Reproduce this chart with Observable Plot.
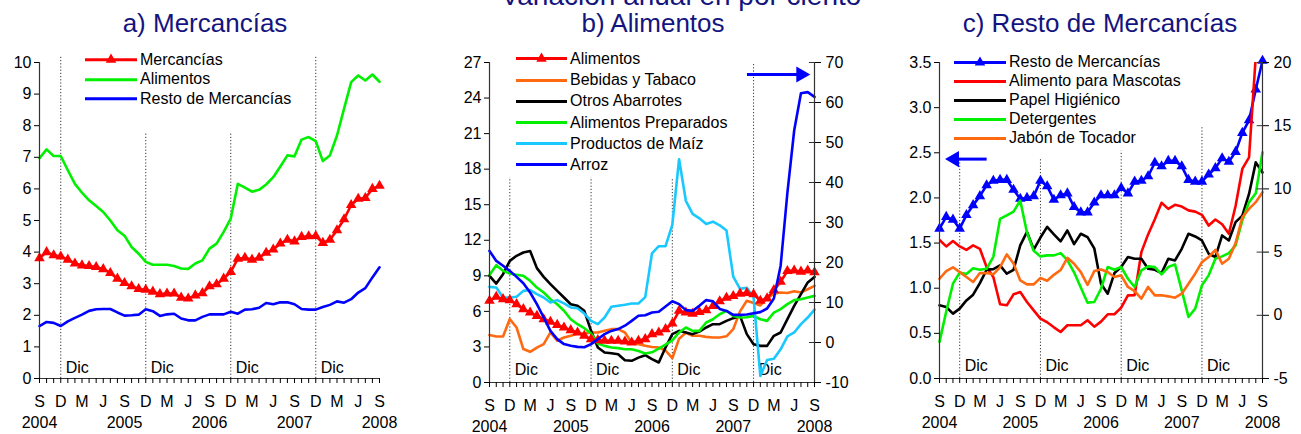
<!DOCTYPE html>
<html><head><meta charset="utf-8">
<script src="https://cdn.jsdelivr.net/npm/d3@7"></script>
<script src="https://cdn.jsdelivr.net/npm/@observablehq/plot@0.6"></script>
<style>
html,body{margin:0;padding:0;background:#fff;overflow:hidden;}
body{font-family:"Liberation Sans",Arial,sans-serif;}
#wrap{position:relative;width:1301px;height:434px;overflow:hidden;}
.title{position:absolute;color:#14147e;font-size:26px;white-space:nowrap;transform:translateX(-50%);line-height:26px;}
.panel{position:absolute;top:40px;}
.legend{position:absolute;font-size:16px;color:#000;}
.legend .row{display:flex;align-items:center;white-space:nowrap;}
.legend svg{display:block;}
</style></head>
<body><div id="wrap"></div>
<script>
// ---------- categories / labels ----------
const monthLetters = ["S","D","M","J"];
const yearLabels = ["2004","2005","2006","2007","2008"];
const decIdx = [3, 15, 27, 39];

// ---------- a) Mercancías (monthly, Sep 2004 - Sep 2008) ----------
const mercancias = [3.81,4.0,3.9,3.86, 3.76,3.64,3.58,3.56,3.53,3.46,3.34,3.16,3.02,2.92,2.83,2.81,
  2.75,2.67,2.69,2.69,2.56,2.53,2.63,2.7,2.92,2.98,3.16,3.37,
  3.79,3.82,3.76,3.82,3.98,4.08,4.27,4.39,4.34,4.48,4.5,4.51,
  4.29,4.39,4.69,5.04,5.49,5.69,5.71,6.0,6.1];
const alimentosA = [6.97,7.25,7.04,7.04, 6.59,6.16,5.88,5.64,5.46,5.27,5.0,4.69,4.52,4.16,3.95,3.69,
  3.6,3.6,3.6,3.56,3.48,3.47,3.64,3.74,4.11,4.27,4.64,5.06,
  6.16,6.04,5.91,5.97,6.14,6.37,6.71,7.06,7.03,7.56,7.64,7.51,
  6.88,7.06,7.69,8.54,9.38,9.59,9.43,9.62,9.39];
const restoMerc = [1.66,1.79,1.76,1.66, 1.81,1.92,2.02,2.14,2.19,2.2,2.2,2.09,1.99,2.0,2.02,2.19,
  2.13,1.98,2.03,2.05,1.9,1.84,1.84,1.95,2.03,2.03,2.03,2.11,
  2.05,2.18,2.19,2.24,2.39,2.35,2.41,2.41,2.35,2.2,2.18,2.18,
  2.26,2.33,2.44,2.4,2.51,2.72,2.86,3.2,3.52];

// ---------- b) Alimentos ----------
const alimentosB = [6.89,7.23,7.03,6.95, 6.61,6.19,5.9,5.62,5.34,5.12,4.86,4.64,4.42,4.22,3.94,3.66,
  3.57,3.52,3.52,3.52,3.46,3.37,3.52,3.66,4.08,4.22,4.5,4.98,
  6.05,5.9,5.8,5.95,6.1,6.45,6.85,7.15,7.3,7.5,7.55,7.45,
  6.9,7.1,7.8,8.5,9.4,9.45,9.35,9.45,9.3];
const bebidas = [4.0,3.88,3.88,5.35, 4.64,2.82,2.59,2.95,3.24,4.22,3.52,3.8,3.94,4.13,4.13,4.22,
  4.22,4.36,4.5,4.5,4.22,3.37,3.23,3.1,3.0,2.95,2.7,2.05,
  3.7,4.2,3.94,3.94,3.85,3.8,3.8,3.9,4.5,6.0,6.9,6.7,
  6.5,7.1,7.5,7.6,7.55,7.7,7.6,7.87,8.15];
const otrosAbarrotes = [9.0,8.35,9.14,10.26, 10.69,10.97,11.1,9.65,8.91,8.3,7.73,7.17,6.6,6.47,6.05,4.36,
  2.95,2.53,2.47,2.39,1.88,1.83,2.1,2.3,1.97,1.69,2.95,4.08,
  4.36,4.22,4.08,4.3,4.64,4.92,4.92,5.2,5.43,5.62,4.08,3.23,
  3.09,3.09,3.94,4.22,5.34,6.47,7.45,8.44,8.91];
const alimPreparados = [9.08,9.9,9.42,9.2, 9.08,9.0,8.58,8.01,7.59,7.03,6.6,6.05,5.34,4.92,4.58,4.13,
  3.29,3.09,2.95,2.9,2.81,2.8,2.65,2.45,2.55,2.85,3.2,3.55,
  4.22,4.64,4.36,4.36,5.06,5.34,5.76,6.05,5.62,5.48,5.5,5.62,
  5.34,5.2,5.9,6.19,6.61,6.95,7.03,7.17,7.31];
const prodMaiz = [8.07,8.01,7.17,7.17, 7.23,7.73,7.8,7.45,7.17,6.75,6.95,6.67,6.33,6.27,5.82,5.2,
  4.92,5.48,6.39,6.47,6.56,6.67,6.67,7.2,10.9,11.5,11.5,13.3,
  18.84,15.33,14.23,13.85,13.38,13.57,13.26,12.82,8.93,7.9,8.0,7.2,
  0.55,1.9,2.0,2.8,3.9,4.22,4.92,5.48,6.15];
const arroz = [22.9,20.4,19.2,17.9, 16.4,14.8,12.5,9.6,6.25,2.9,0.85,-0.4,-0.8,-1.1,-1.2,-0.4,
  0.85,2.1,2.9,3.35,4.2,5.4,6.7,6.8,7.5,7.7,9.0,10.3,
  9.6,8.1,7.9,9.2,10.6,10.3,8.4,7.9,6.9,6.9,7.0,7.3,
  7.6,8.5,11.0,19.2,37.5,53.0,62.3,62.6,61.4];

// ---------- c) Resto de Mercancías ----------
const mascotas = [5.97,5.45,5.87,5.45, 5.18,5.53,5.26,3.82,3.03,0.87,0.79,1.66,1.84,1.05,0.39,-0.26,
  -0.55,-0.95,-1.32,-0.79,-0.79,-0.79,-0.39,-0.9,-0.5,0.08,0.08,0.61,
  1.58,1.6,5.0,6.4,7.6,8.9,8.42,8.74,8.6,8.3,8.2,7.95,
  7.1,7.58,7.2,6.45,8.65,11.58,12.5,20.5,27];
const papel = [0.79,0.66,0.13,0.53, 1.18,1.63,2.55,3.6,3.65,3.95,3.29,3.6,5.53,6.6,5.2,6.15,
  7.0,6.4,5.85,6.71,5.63,6.45,6.18,5.3,2.5,1.71,3.34,3.82,
  4.61,4.47,4.47,3.68,3.6,3.34,4.47,4.34,5.26,6.45,6.24,5.92,
  4.87,4.61,6.32,5.92,7.37,7.89,9.6,12.1,11.3];
const detergentes = [-2.1,0.3,2.5,3.38, 3.26,3.72,3.6,3.68,4.63,7.63,7.9,8.2,9.08,6.55,5.1,4.66,
  4.74,4.74,4.92,4.37,3.4,2.2,1.0,1.05,2.1,3.82,3.6,3.82,
  2.89,2.24,3.55,3.87,3.82,3.24,3.82,4.03,1.97,-0.13,0.53,2.37,
  3.16,4.47,4.66,4.92,5.53,7.5,8.95,9.66,12.9];
const jabon = [2.89,3.5,3.8,3.42, 3.03,2.63,3.34,3.34,3.24,3.82,4.82,4.1,2.76,2.45,2.45,2.95,
  2.74,3.2,3.58,4.55,4.08,3.42,2.4,3.5,3.62,3.42,3.03,3.16,
  2.24,1.92,1.32,2.24,1.58,1.58,1.5,1.39,1.71,2.5,3.29,4.21,
  4.61,5.18,4.08,4.47,5.71,7.76,8.42,8.95,9.74];

// ---------- colours ----------
const C = {red:"#ff0000", green:"#00f000", blue:"#0000ff", orange:"#ff6a10", black:"#000000", cyan:"#18c8ff"};

const wrap = document.getElementById("wrap");
const FONT = "Liberation Sans, Arial, sans-serif";

function addTitle(text, cx, top, size) {
  const d = document.createElement("div");
  d.className = "title"; d.textContent = text;
  d.style.left = cx + "px"; d.style.top = top + "px";
  if (size) { d.style.fontSize = size + "px"; d.style.lineHeight = size + "px"; }
  wrap.appendChild(d);
}

function addLegend(left, top, rowH, lineW, gap, items) {
  const ns = "http://www.w3.org/2000/svg";
  const div = document.createElement("div");
  div.className = "legend"; div.style.left = left + "px"; div.style.top = top + "px";
  for (const it of items) {
    const row = document.createElement("div"); row.className = "row"; row.style.height = rowH + "px";
    const svg = document.createElementNS(ns, "svg");
    svg.setAttribute("width", lineW); svg.setAttribute("height", rowH);
    svg.style.marginRight = gap + "px";
    const ln = document.createElementNS(ns, "line");
    ln.setAttribute("x1", 0); ln.setAttribute("x2", lineW);
    ln.setAttribute("y1", rowH / 2); ln.setAttribute("y2", rowH / 2);
    ln.setAttribute("stroke", it.color); ln.setAttribute("stroke-width", 3);
    svg.appendChild(ln);
    if (it.tri) {
      const p = document.createElementNS(ns, "path");
      p.setAttribute("d", d3.symbol(d3.symbolTriangle, 48)());
      p.setAttribute("transform", `translate(${lineW / 2},${rowH / 2})`);
      p.setAttribute("fill", it.color);
      svg.appendChild(p);
    }
    const sp = document.createElement("span"); sp.textContent = it.label;
    row.appendChild(svg); row.appendChild(sp); div.appendChild(row);
  }
  wrap.appendChild(div);
}

function makePanel(o) {
  const idx = (d, i) => i;
  const y0 = o.yDomain[0];
  const marks = [];
  const decs = decIdx.map((x, k) => ({x, top: o.decTop[k]}));
  marks.push(Plot.ruleX(decs, {x: "x", y1: () => y0, y2: "top", stroke: "#333", strokeWidth: 1, strokeDasharray: "1.2,2"}));
  marks.push(Plot.text(decs, {x: "x", y: () => y0, text: () => "Dic", textAnchor: "start", dx: 5, dy: o.dicDy, fontSize: 16}));
  for (const s of o.series) {
    const yv = s.map ? (d => s.map(d)) : (d => d);
    marks.push(Plot.lineY(s.values, {x: idx, y: yv, stroke: s.color, strokeWidth: 2.6, clip: !!s.clip}));
    if (s.tri) marks.push(Plot.dot(s.values, {x: idx, y: yv, symbol: "triangle", r: 3.9, fill: s.color, stroke: "none", clip: !!s.clip}));
  }
  if (o.arrow) {
    const a = o.arrow;
    marks.push(Plot.ruleY([a.y], {x1: () => a.x1, x2: () => a.x2, stroke: C.blue, strokeWidth: 3}));
    marks.push(Plot.dot([a.y], {x: () => a.head, y: d => d, symbol: "triangle", rotate: a.rot, r: 6, fill: C.blue, stroke: "none"}));
  }
  marks.push(Plot.ruleX([0], {stroke: "#333", strokeWidth: 1.2}));
  marks.push(Plot.ruleY([y0], {stroke: "#333", strokeWidth: 1.2}));
  marks.push(Plot.axisX({ticks: d3.range(0, 49), tickSize: 5, tickFormat: () => "", label: null}));
  marks.push(Plot.axisX({ticks: d3.range(0, 49, 3), tickSize: 0, tickPadding: 17, tickFormat: i => monthLetters[(i / 3) % 4], label: null, fontSize: 16}));
  marks.push(Plot.axisX({ticks: d3.range(0, 49, 12), tickSize: 0, tickPadding: 38, tickFormat: i => yearLabels[i / 12], label: null, fontSize: 16}));
  marks.push(Plot.axisY({ticks: o.leftTicks, tickSize: 5, tickPadding: 3, tickFormat: o.leftFmt, label: null, fontSize: 16}));
  if (o.right) {
    const r = o.right;
    const pos = r.ticks.map(r.toLeft);
    marks.push(Plot.ruleX([48], {stroke: "#333", strokeWidth: 1.2}));
    marks.push(Plot.axisY({anchor: "right", ticks: pos, tickSize: 6, tickPadding: 5, tickFormat: (d, i) => String(r.ticks[i]), label: null, fontSize: 16}));
    marks.push(Plot.ruleY(pos, {x1: () => 48 - r.inner, x2: () => 48, stroke: "#333"}));
  }
  const svg = Plot.plot({
    width: o.width, height: 394,
    marginLeft: o.mL, marginRight: o.mR, marginTop: 22, marginBottom: o.mB,
    x: {domain: [0, 48], axis: null},
    y: {domain: o.yDomain, axis: null},
    style: {fontSize: "16px", fontFamily: FONT, color: "#000", background: "transparent", overflow: "visible"},
    marks
  });
  svg.classList.add("panel");
  svg.style.left = o.left + "px";
  wrap.appendChild(svg);
}

// ---------- Panel a ----------
makePanel({
  left: 0, width: 430, mL: 39, mR: 51, mB: 56,
  yDomain: [0, 10], leftTicks: d3.range(0, 11), leftFmt: d => String(d),
  decTop: [10.22, 7.8, 7.8, 10.22], dicDy: -11,
  series: [
    {values: alimentosA, color: C.green},
    {values: restoMerc, color: C.blue},
    {values: mercancias, color: C.red, tri: true}
  ]
});

// ---------- Panel b ----------
const toLeftB = v => (v + 10) * 27 / 80;
makePanel({
  left: 430, width: 440, mL: 59, mR: 56, mB: 52,
  yDomain: [0, 27], leftTicks: d3.range(0, 28, 3), leftFmt: d => String(d),
  decTop: [17.3, 17.3, 17.2, 27], dicDy: -13,
  right: {ticks: d3.range(-10, 71, 10), toLeft: toLeftB, inner: 0.75},
  arrow: {y: toLeftB(67), x1: 38.1, x2: 45.5, head: 46.0, rot: 90},
  series: [
    {values: bebidas, color: C.orange},
    {values: otrosAbarrotes, color: C.black},
    {values: alimPreparados, color: C.green},
    {values: prodMaiz, color: C.cyan},
    {values: alimentosB, color: C.red, tri: true},
    {values: arroz, color: C.blue, map: toLeftB}
  ]
});

// ---------- Panel c ----------
const toLeftC = v => (v + 5) * 3.5 / 25;
makePanel({
  left: 870, width: 431, mL: 69, mR: 39, mB: 56,
  yDomain: [0, 3.5], leftTicks: d3.range(0, 3.51, 0.5), leftFmt: d3.format(".1f"),
  decTop: [2.43, 2.43, 2.52, 2.79], dicDy: -13,
  right: {ticks: d3.range(-5, 21, 5), toLeft: toLeftC, inner: 0.8},
  arrow: {y: 2.43, x1: 2.6, x2: 7.08, head: 2.2, rot: -90},
  series: [
    {values: restoMerc, color: C.blue, tri: true},
    {values: mascotas, color: C.red, map: toLeftC, clip: true},
    {values: papel, color: C.black, map: toLeftC},
    {values: detergentes, color: C.green, map: toLeftC},
    {values: jabon, color: C.orange, map: toLeftC}
  ]
});

// ---------- titles ----------
addTitle("Variación anual en por ciento", 681, -18, 28);
addTitle("a) Mercancías", 205, 10);
addTitle("b) Alimentos", 653, 10);
addTitle("c) Resto de Mercancías", 1100, 10);

// ---------- legends ----------
addLegend(85, 50.3, 19.4, 52, 3, [
  {label: "Mercancías", color: C.red, tri: true},
  {label: "Alimentos", color: C.green},
  {label: "Resto de Mercancías", color: C.blue}
]);
addLegend(516, 48.4, 21.2, 51, 3, [
  {label: "Alimentos", color: C.red, tri: true},
  {label: "Bebidas y Tabaco", color: C.orange},
  {label: "Otros Abarrotes", color: C.black},
  {label: "Alimentos Preparados", color: C.green},
  {label: "Productos de Maíz", color: C.cyan},
  {label: "Arroz", color: C.blue}
]);
addLegend(954, 52.8, 19, 52, 3, [
  {label: "Resto de Mercancías", color: C.blue, tri: true},
  {label: "Alimento para Mascotas", color: C.red},
  {label: "Papel Higiénico", color: C.black},
  {label: "Detergentes", color: C.green},
  {label: "Jabón de Tocador", color: C.orange}
]);
</script>
</body></html>
